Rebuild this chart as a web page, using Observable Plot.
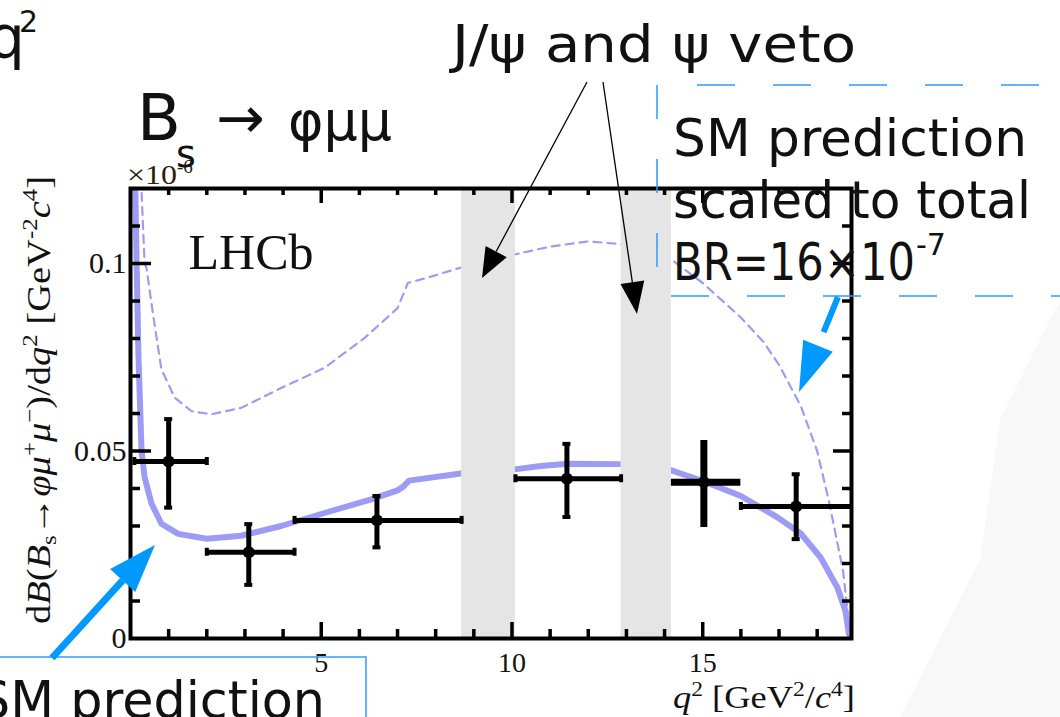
<!DOCTYPE html>
<html>
<head>
<meta charset="utf-8">
<script src="https://cdn.jsdelivr.net/npm/d3@7"></script>
<script src="https://cdn.jsdelivr.net/npm/@observablehq/plot@0.6"></script>
<style>
  html, body { margin: 0; padding: 0; background: #ffffff; }
  #wrap { position: relative; width: 1060px; height: 717px; overflow: hidden; background: #fff; }
  #wrap > svg { position: absolute; left: 0; top: 0; }
</style>
</head>
<body>
<div id="wrap"></div>
<script>
// ---------------- data ----------------
const binLow       = [0.1, 2.0, 4.3, 10.09, 14.18, 16.0];
const binHigh      = [2.0, 4.3, 8.68, 12.86, 16.0, 19.0];
const binMean      = [1.0, 3.1, 6.46, 11.44, 15.03, 17.45];
const measured     = [0.0472, 0.0230, 0.0315, 0.0426, 0.0417, 0.0352];
const measuredUp   = [0.0585, 0.0305, 0.0380, 0.0519, 0.0528, 0.0438];
const measuredDown = [0.0349, 0.0143, 0.0243, 0.0324, 0.0296, 0.0265];

const vetoLow  = [8.68, 12.86];
const vetoHigh = [10.09, 14.18];

// SM prediction (solid band)
const smQ2   = [0.1, 0.16, 0.21, 0.29, 0.37, 0.55, 0.81, 1.25, 2.0, 2.9, 3.95, 5.26, 6.31, 7.0, 7.15, 7.3, 8.66, 10.06, 10.76, 11.46, 12.81, 14.16, 15.0, 16.0, 16.96, 17.57, 18.09, 18.53, 18.74, 18.83, 18.9];
const smRate = [0.135, 0.1, 0.075, 0.05, 0.043, 0.036, 0.0306, 0.0279, 0.0266, 0.0274, 0.030, 0.034, 0.0371, 0.0395, 0.0405, 0.0421, 0.0440, 0.0451, 0.0460, 0.0466, 0.0465, 0.0449, 0.0420, 0.0380, 0.0323, 0.0280, 0.0216, 0.0136, 0.0074, 0.0013, 0];

// SM prediction scaled to total BR (dashed)
const scaledQ2   = [0.27, 0.29, 0.37, 0.42, 0.59, 0.81, 1.16, 1.6, 2.12, 2.9, 3.95, 5.09, 6.13, 7.0, 7.27, 7.88, 8.62, 10.06, 11.0, 12.0, 12.8, 14.16, 15.0, 16.0, 16.6, 17.0, 17.57, 18.0, 18.3, 18.68, 18.83, 18.9];
const scaledRate = [0.13, 0.119, 0.1, 0.0988, 0.0865, 0.0718, 0.0642, 0.0606, 0.0598, 0.0615, 0.0668, 0.0722, 0.0801, 0.0881, 0.0948, 0.0965, 0.0988, 0.1024, 0.1045, 0.1059, 0.1052, 0.1012, 0.0948, 0.0856, 0.079, 0.073, 0.062, 0.050, 0.037, 0.018, 0.004, 0];

const xTickLabels  = [5, 10, 15];
const xMajorTicks  = [5, 10, 15];
const xMinorTicks  = [1, 2, 3, 4, 6, 7, 8, 9, 11, 12, 13, 14, 16, 17, 18];
const yTickLabels  = [0, 0.05, 0.1];
const yMajorTicks  = [0.05, 0.1];
const yMinorTicks  = [0.01, 0.02, 0.03, 0.04, 0.06, 0.07, 0.08, 0.09, 0.11];

// ---------------- chart ----------------
const W = 1060, H = 717, mL = 130, mR = 209, mT = 188, mB = 79;
const fW = W - mL - mR, fH = H - mT - mB;

const points = binMean.map((q, i) => ({q, lo: binLow[i], hi: binHigh[i], v: measured[i], up: measuredUp[i], dn: measuredDown[i], i}));
const capped = points.filter(d => d.i !== 4);
const sm = smQ2.map((q, i) => ({q, r: smRate[i]}));
const sc = scaledQ2.map((q, i) => ({q, r: scaledRate[i]}));
const veto = vetoLow.map((a, i) => ({a, b: vetoHigh[i]}));
const curveColor = "#9c9cf6";
const bw = d => d.i === 4 ? 7 : 5;
const SERIF = "'Liberation Serif', 'Times New Roman', serif";

const chart = Plot.plot({
  width: W, height: H,
  marginLeft: mL, marginRight: mR, marginTop: mT, marginBottom: mB,
  style: {fontFamily: SERIF, fontSize: "27px", color: "#111", background: "transparent", overflow: "visible"},
  x: {domain: [0, 18.9], axis: null},
  y: {domain: [0, 0.12], axis: null},
  marks: [
    Plot.line(sm, {x: "q", y: "r", stroke: curveColor, strokeWidth: 6, clip: true}),
    Plot.line(sc, {x: "q", y: "r", stroke: curveColor, strokeWidth: 2.2, strokeDasharray: "8,6", clip: true}),
    Plot.rect(veto, {x1: "a", x2: "b", y1: 0, y2: 0.12, fill: "#e5e5e5"}),
    Plot.ruleY(points, {y: "v", x1: "lo", x2: "hi", stroke: "#000", strokeWidth: bw, clip: true}),
    Plot.ruleX(points, {x: "q", y1: "dn", y2: "up", stroke: "#000", strokeWidth: bw}),
    Plot.ruleX(capped, {x: "lo", y1: "v", y2: "v", insetTop: -4, insetBottom: -4, stroke: "#000", strokeWidth: 4, clip: true}),
    Plot.ruleX(capped, {x: "hi", y1: "v", y2: "v", insetTop: -4, insetBottom: -4, stroke: "#000", strokeWidth: 4, clip: true}),
    Plot.ruleY(capped, {y: "up", x1: "q", x2: "q", insetLeft: -4, insetRight: -4, stroke: "#000", strokeWidth: 4}),
    Plot.ruleY(capped, {y: "dn", x1: "q", x2: "q", insetLeft: -4, insetRight: -4, stroke: "#000", strokeWidth: 4}),
    Plot.dot(points, {x: "q", y: "v", r: 6, fill: "#000", stroke: "none"}),
    Plot.text(["LHCb"], {frameAnchor: "top-left", dx: 58, dy: 45, lineAnchor: "top", textAnchor: "start", fontSize: 50, fill: "#111"}),
    // inward ticks on all four sides
    Plot.tickX(xMinorTicks, {x: d => d, insetTop: fH - 9, stroke: "#000", strokeWidth: 3.5}),
    Plot.tickX(xMajorTicks, {x: d => d, insetTop: fH - 16, stroke: "#000", strokeWidth: 3.5}),
    Plot.tickX(xMinorTicks, {x: d => d, insetBottom: fH - 7, stroke: "#000", strokeWidth: 3.5}),
    Plot.tickX(xMajorTicks, {x: d => d, insetBottom: fH - 15, stroke: "#000", strokeWidth: 3.5}),
    Plot.tickY(yMinorTicks, {y: d => d, insetRight: fW - 10, stroke: "#000", strokeWidth: 3.5}),
    Plot.tickY(yMajorTicks, {y: d => d, insetRight: fW - 21, stroke: "#000", strokeWidth: 3.5}),
    Plot.tickY(yMinorTicks, {y: d => d, insetLeft: fW - 9, stroke: "#000", strokeWidth: 3.5}),
    Plot.tickY(yMajorTicks, {y: d => d, insetLeft: fW - 18, stroke: "#000", strokeWidth: 3.5}),
    // tick labels
    Plot.text(xTickLabels, {x: d => d, text: d => String(d), frameAnchor: "bottom", dy: 14, lineAnchor: "top", textAnchor: "middle", fontSize: 28, fill: "#111"}),
    Plot.text(yTickLabels, {y: d => d, text: d => String(d), frameAnchor: "left", dx: -4, textAnchor: "end", lineAnchor: "middle", fontSize: 30, fill: "#111"}),
    Plot.frame({stroke: "#000", strokeWidth: 4})
  ]
});

const wrap = document.getElementById("wrap");

// faint slide background shape (under the chart)
const bg = `<svg width="${W}" height="${H}" xmlns="http://www.w3.org/2000/svg">
  <polygon points="1060,300 1060,717 900,717 980,560 1000,420" fill="#f8f8f8"/>
</svg>`;
wrap.insertAdjacentHTML("beforeend", bg);
wrap.appendChild(chart);

// ---------------- annotations ----------------
const SANS = "'DejaVu Sans', 'Noto Sans', sans-serif";
function T(x, y, s, size, o = {}) {
  const len = o.len ? ` textLength="${o.len}" lengthAdjust="spacingAndGlyphs"` : "";
  return `<text x="${x}" y="${y}" font-family="${o.family || SANS}" font-size="${size}" fill="${o.fill || '#111'}"${len}>${s}</text>`;
}
function arrow(x1, y1, x2, y2, len, half, color, width, dash) {
  const dx = x2 - x1, dy = y2 - y1, L = Math.hypot(dx, dy), ux = dx / L, uy = dy / L;
  const bx = x2 - ux * len, by = y2 - uy * len, px = -uy, py = ux;
  const da = dash ? ` stroke-dasharray="${dash}"` : "";
  return `<line x1="${x1}" y1="${y1}" x2="${bx}" y2="${by}" stroke="${color}" stroke-width="${width}"${da}/>` +
         `<polygon points="${x2},${y2} ${bx + px * half},${by + py * half} ${bx - px * half},${by - py * half}" fill="${color}"/>`;
}

const BLUE = "#0099ff", BOXBLUE = "#2a9dff";
const ann = `<svg width="${W}" height="${H}" xmlns="http://www.w3.org/2000/svg">
  ${T(127, 184, "×10", 28, {family: SERIF, fill: "#2a1f10", len: 50})}
  ${T(177, 173, "-6", 19, {family: SERIF, fill: "#2a1f10"})}
  ${T(-12, 58, "q", 58)}
  ${T(19, 32, "2", 30)}
  ${T(137, 140, "B", 64)}
  ${T(176, 167, "s", 38)}
  ${T(216, 138, "→", 58)}
  ${T(288, 140, "φμμ", 56, {len: 104})}
  ${T(452, 62, "J/ψ and ψ veto", 52, {len: 404})}
  ${arrow(587, 82, 482, 278, 30, 12, "#000", 1.3)}
  ${arrow(603, 82, 637, 314, 32, 12, "#000", 1.3)}
  <line x1="659" y1="85" x2="1060" y2="85" stroke="${BOXBLUE}" stroke-width="1.5" stroke-dasharray="38,38" stroke-dashoffset="38"/>
  <line x1="657" y1="296" x2="1060" y2="296" stroke="${BOXBLUE}" stroke-width="1.5" stroke-dasharray="38,38" stroke-dashoffset="62"/>
  <line x1="657" y1="85" x2="657" y2="296" stroke="${BOXBLUE}" stroke-width="1.5" stroke-dasharray="34,40"/>
  ${T(673, 156, "SM prediction", 52, {len: 354})}
  ${T(673, 218, "scaled to total", 52, {len: 358})}
  ${T(673, 280, "BR=16×10", 52, {len: 242})}
  ${T(916, 255, "-7", 30)}
  ${arrow(838, 297, 799, 392, 50, 16, BLUE, 6, "38,40")}
  <path d="M-2,657 H366 V720" stroke="#3399ff" stroke-width="1.5" fill="none"/>
  ${T(-22, 718, "SM prediction", 52, {len: 347})}
  ${arrow(52, 658, 155, 545, 48, 17, BLUE, 7)}
  <text transform="translate(50,400) rotate(-90)" text-anchor="middle" font-family="${SERIF}" font-size="34" fill="#111" textLength="448" lengthAdjust="spacingAndGlyphs">d<tspan font-style="italic">B</tspan>(<tspan font-style="italic">B</tspan><tspan font-size="22" dy="6">s</tspan><tspan dy="-6">→</tspan><tspan font-style="italic">φμ</tspan><tspan font-size="22" dy="-13">+</tspan><tspan font-style="italic" dy="13">μ</tspan><tspan font-size="22" dy="-13">−</tspan><tspan dy="13">)/d</tspan><tspan font-style="italic">q</tspan><tspan font-size="22" dy="-13">2</tspan><tspan dy="13"> [GeV</tspan><tspan font-size="22" dy="-13">-2</tspan><tspan font-style="italic" dy="13">c</tspan><tspan font-size="22" dy="-13">4</tspan><tspan dy="13">]</tspan></text>
  <text x="673" y="708" font-family="${SERIF}" font-size="31" fill="#111" textLength="182" lengthAdjust="spacingAndGlyphs"><tspan font-style="italic">q</tspan><tspan font-size="20" dy="-12">2</tspan><tspan dy="12"> [GeV</tspan><tspan font-size="20" dy="-12">2</tspan><tspan dy="12">/</tspan><tspan font-style="italic">c</tspan><tspan font-size="20" dy="-12">4</tspan><tspan dy="12">]</tspan></text>
</svg>`;
wrap.insertAdjacentHTML("beforeend", ann);
</script>
</body>
</html>
